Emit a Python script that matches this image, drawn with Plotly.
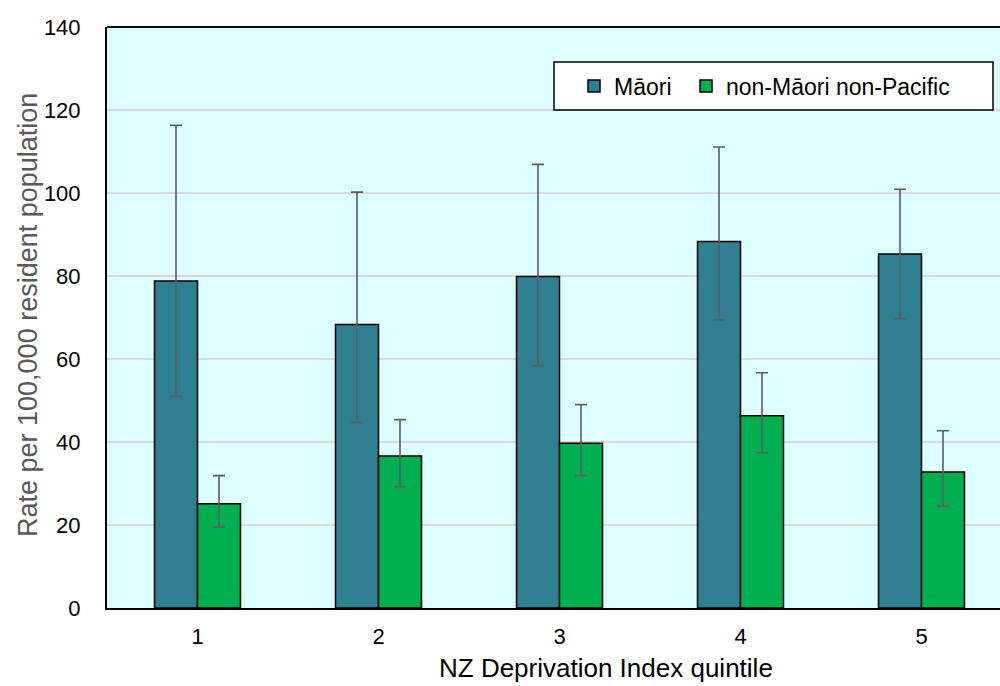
import plotly.graph_objects as go

quintiles = [1, 2, 3, 4, 5]
tick_labels = ["1", "2", "3", "4", "5"]

maori_rate = [78.8, 68.3, 79.9, 88.3, 85.3]
maori_upper = [116.3, 100.2, 106.9, 111.1, 100.9]
maori_lower = [51.0, 44.7, 58.4, 69.4, 69.7]

nmnp_rate = [25.1, 36.6, 39.7, 46.3, 32.8]
nmnp_upper = [31.9, 45.4, 49.0, 56.7, 42.7]
nmnp_lower = [19.5, 29.2, 31.9, 37.4, 24.5]

FONT = "Arial, Liberation Sans, sans-serif"

def err(rate, up, lo):
    return dict(type="data", symmetric=False,
                array=[u - r for u, r in zip(up, rate)],
                arrayminus=[r - l for r, l in zip(rate, lo)],
                color="#5E5E5E", thickness=1.6, width=6)

fig = go.Figure()
fig.add_trace(go.Bar(x=quintiles, y=maori_rate, name="Māori", legend="legend",
                     marker=dict(color="#2F7F91", line=dict(color="black", width=1.5)),
                     error_y=err(maori_rate, maori_upper, maori_lower)))
fig.add_trace(go.Bar(x=quintiles, y=nmnp_rate, name="non-Māori non-Pacific", legend="legend2",
                     marker=dict(color="#00B050", line=dict(color="black", width=1.5)),
                     error_y=err(nmnp_rate, nmnp_upper, nmnp_lower)))

L, T, B = 107, 27, 78
W, H = 1000, 686
pw, ph = W - L, H - T - B
band = 181.0

def leg(xpx):
    return dict(orientation="h", x=(xpx - L) / pw, xanchor="left",
                y=(608 - 86) / ph, yanchor="middle",
                bgcolor="rgba(0,0,0,0)", borderwidth=0,
                font=dict(family=FONT, size=23, color="black"))

fig.update_layout(
    width=W, height=H,
    margin=dict(l=L, r=0, t=T, b=B, pad=0),
    paper_bgcolor="white",
    plot_bgcolor="#DDFFFF",
    barmode="group", bargap=0.525, bargroupgap=0,
    font=dict(family=FONT, size=22, color="black"),
    showlegend=True,
    legend=leg(574),
    legend2=leg(686),
    xaxis=dict(range=[0.5, 0.5 + pw / band], tickmode="array",
               tickvals=quintiles, ticktext=tick_labels,
               showgrid=False, zeroline=False, showline=True,
               linecolor="black", linewidth=2, ticks="",
               ticklabelstandoff=8,
               tickfont=dict(family=FONT, size=22, color="black")),
    yaxis=dict(range=[0, 140], tickvals=[0, 20, 40, 60, 80, 100, 120, 140],
               showgrid=True, gridcolor="#D9D9D9", gridwidth=1.5,
               zeroline=False, showline=True, linecolor="black", linewidth=2,
               ticks="", ticklabelstandoff=20,
               tickfont=dict(family=FONT, size=22, color="black")),
    shapes=[
        dict(type="line", xref="paper", yref="paper", x0=0, x1=1, y0=1, y1=1,
             line=dict(color="black", width=2)),
        dict(type="rect", xref="paper", yref="paper", layer="above",
             x0=(554 - L) / pw, x1=(993 - L) / pw,
             y0=(608 - 110) / ph, y1=(608 - 62) / ph,
             fillcolor="white", line=dict(color="black", width=1.5)),
    ],
    annotations=[
        dict(text="NZ Deprivation Index quintile", xref="paper", yref="paper",
             x=(606 - L) / pw, y=(608 - 668) / ph, xanchor="center", yanchor="middle",
             showarrow=False, font=dict(family=FONT, size=26, color="black")),
        dict(text="Rate per 100,000 resident population", xref="paper", yref="paper",
             x=(28 - L) / pw, y=(608 - 315) / ph, xanchor="center", yanchor="middle",
             textangle=-90, showarrow=False,
             font=dict(family=FONT, size=27, color="#595959")),
    ],
)

fig.write_html("out.html", config={"displayModeBar": False},
               post_script="document.body.style.margin='0px';")
